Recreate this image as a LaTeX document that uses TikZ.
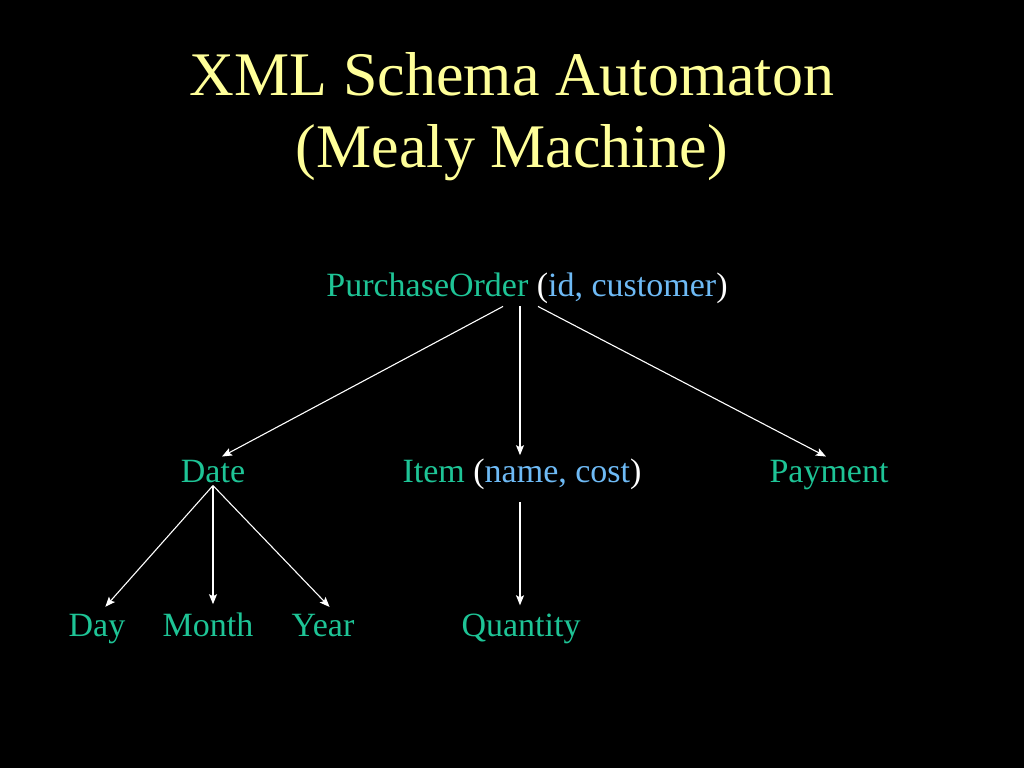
\documentclass[tikz,border=0pt]{standalone}
\usepackage{fontspec}
\setmainfont{Liberation Serif}
\usetikzlibrary{arrows.meta}
\definecolor{elemgreen}{RGB}{30,196,150}
\definecolor{attrblue}{RGB}{110,186,245}
\definecolor{titleyellow}{RGB}{255,255,153}
\tikzset{
	elem/.style={text=elemgreen, font=\fontsize{34}{40}\selectfont, anchor=base, inner sep=3pt},
	heading/.style={text=titleyellow, font=\fontsize{62}{70}\selectfont, anchor=base, inner sep=0pt},
	link/.style={draw=white, line width=1.1pt, -{Stealth[length=10pt,width=8pt,inset=2pt]}}
}
\newcommand{\attr}[1]{\textcolor{attrblue}{#1}}
\newcommand{\paren}[1]{\textcolor{white}{#1}}

\begin{document}
\begin{tikzpicture}[x=1pt,y=-1pt]
        \fill[black] (0,0) rectangle (1024,768);
        \useasboundingbox (0,0) rectangle (1024,768);
        \node[heading] (title_1) at (512,95) {XML Schema Automaton};
        \node[heading] (title_2) at (512,167) {(Mealy Machine)};
        \node[elem] (po) at (527,296) {PurchaseOrder \paren{(}\attr{id, customer}\paren{)}};
        \node[elem] (date) at (213,482) {Date};
        \node[elem] (item) at (522,482) {Item \paren{(}\attr{name, cost}\paren{)}};
        \node[elem] (payment) at (829,482) {Payment};
        \node[elem] (day) at (97,636) {Day};
        \node[elem] (month) at (208,636) {Month};
        \node[elem] (year) at (323,636) {Year};
        \node[elem] (quantity) at (521,636) {Quantity};
        \draw[link] ([xshift=-24pt]po.south) -- ([xshift=9pt]date.north);
        \draw[link] ([xshift=-7pt]po.south) -- ([xshift=-2pt]item.north);
        \draw[link] ([xshift=11pt]po.south) -- ([xshift=-3pt]payment.north);
        \draw[link, shorten >=5pt] (date.south) -- ([xshift=5pt]day.north);
        \draw[link, shorten >=5pt] (date.south) -- ([xshift=5pt]month.north);
        \draw[link, shorten >=5pt] (date.south) -- ([xshift=10pt]year.north);
        \draw[link, shorten <=10pt, shorten >=5pt] ([xshift=-2pt]item.south) -- ([xshift=-1pt]quantity.north);
    \end{tikzpicture}
\end{document}
